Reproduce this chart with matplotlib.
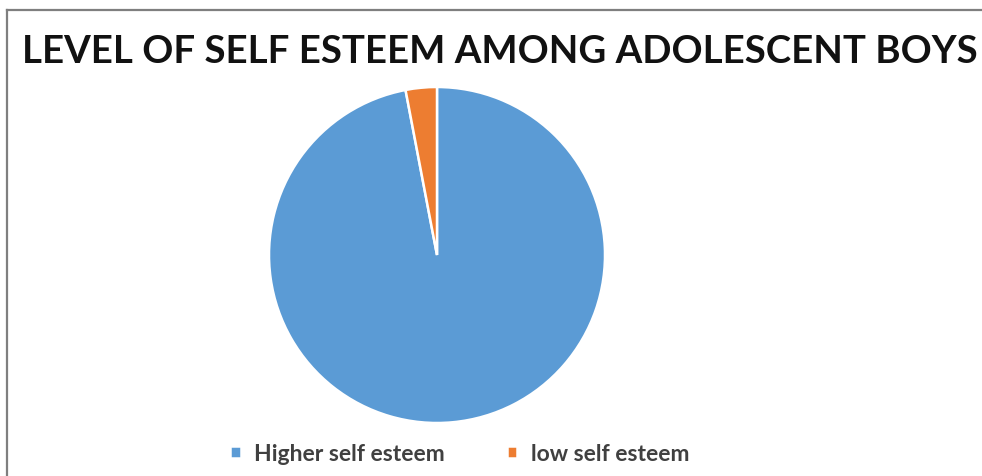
import matplotlib
matplotlib.use("Agg")
import matplotlib.pyplot as plt
from matplotlib.lines import Line2D

labels = ["Higher self esteem", "low self esteem"]
values = [97, 3]
colors = ["#5B9BD5", "#ED7D31"]

W, H = 982, 477
fig = plt.figure(figsize=(W / 100, H / 100), dpi=100)

# chart frame (left and top edges only visible)
fig.add_artist(Line2D([7 / W, 7 / W], [0, 1 - 11 / H], color="#7f7f7f", lw=1.6))
fig.add_artist(Line2D([7 / W, 1], [1 - 11 / H, 1 - 11 / H], color="#7f7f7f", lw=1.6))

fig.text(500 / W, 1 - 52 / H, "LEVEL OF SELF ESTEEM AMONG ADOLESCENT BOYS",
         ha="center", va="center", fontsize=27.6, fontweight="bold",
         family=["Lato", "DejaVu Sans"], color="#111111")

ax = fig.add_axes([269 / W, 53 / H, 336 / W, 336 / H])
wedges, _ = ax.pie(values, colors=colors, startangle=90, counterclock=False,
                   radius=1, wedgeprops=dict(edgecolor="white", linewidth=1.8))
ax.set_xlim(-1, 1)
ax.set_ylim(-1, 1)
ax.set_aspect("equal")

fig.legend(wedges, labels, ncol=2, loc="center", bbox_to_anchor=(460 / W, 1 - 455 / H),
           frameon=False, handlelength=0.45, handleheight=0.45, handletextpad=0.6,
           columnspacing=2.7, prop=dict(family=["Lato", "DejaVu Sans"], weight="bold", size=16.5),
           labelcolor="#404040")

fig.savefig("out.png", dpi=100)
